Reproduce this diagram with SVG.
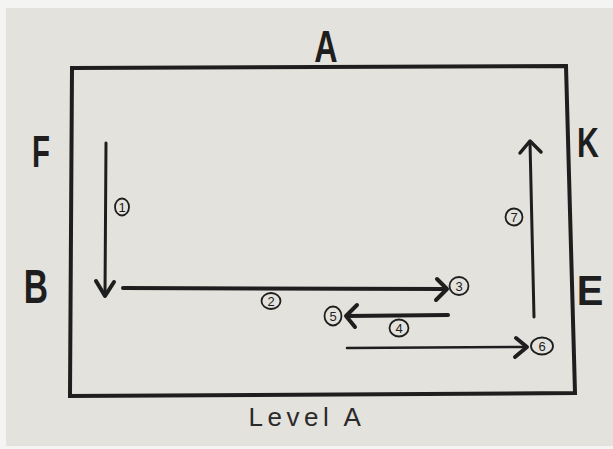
<svg xmlns="http://www.w3.org/2000/svg" width="613" height="449" viewBox="0 0 613 449">
<defs>
<style>
.bg{fill:#e3e2dd}
.frame{fill:none;stroke:#1e1e1e;stroke-width:4;stroke-linejoin:miter}
.big{font-family:"Liberation Sans",Arial,sans-serif;font-weight:bold;font-size:42px;fill:#1e1e1e;text-anchor:middle}
.cap{font-family:"Liberation Sans",Arial,sans-serif;font-size:26px;letter-spacing:4.5px;fill:#2a2a2a;text-anchor:middle}
.ln{fill:none;stroke:#1e1e1e;stroke-linecap:round;stroke-linejoin:round}
.ring{fill:none;stroke:#1e1e1e;stroke-width:1.8}
.num{font-family:"Liberation Sans",Arial,sans-serif;font-size:13px;fill:#1e1e1e;text-anchor:middle}
</style>
</defs>
<rect width="613" height="449" fill="#f4f4f2"/>
<rect class="bg" x="6" y="8" width="607" height="438"/>
<g id="room">
<path class="frame" d="M72,68 L566,66 L575,393 L70,396 Z"/>
</g>
<g id="label-A"><text class="big" transform="translate(326,62) scale(0.77,1.05)">A</text></g>
<g id="label-F"><text class="big" transform="translate(41,167) scale(0.7,1.05)">F</text></g>
<g id="label-B"><text class="big" transform="translate(36,303) scale(0.8,1.15)">B</text></g>
<g id="label-K"><text class="big" transform="translate(588,157) scale(0.72,1.0)">K</text></g>
<g id="label-E"><text class="big" transform="translate(590,305) scale(0.95,1.0)">E</text></g>
<g id="caption"><text class="cap" x="307" y="426">Level A</text></g>
<g id="connectors">
<path class="ln" stroke-width="3" d="M106,143 L105,295"/>
<path class="ln" stroke-width="4" d="M96,281 L105,296 L114,282"/>
<path class="ln" stroke-width="4" d="M123,288 L446,289"/>
<path class="ln" stroke-width="4" d="M437,279 L447,289 L436,300"/>
<path class="ln" stroke-width="4" d="M448,315 L347,316"/>
<path class="ln" stroke-width="4" d="M357,305 L346,316 L355,327"/>
<path class="ln" stroke-width="2.5" d="M347,348 L526,347"/>
<path class="ln" stroke-width="4" d="M516,338 L527,347 L515,357"/>
<path class="ln" stroke-width="3" d="M534,317 L530,142"/>
<path class="ln" stroke-width="3.5" d="M520,153 L530,141 L541,152"/>
</g>
<g id="n1"><ellipse class="ring" cx="122" cy="207" rx="7" ry="8.5"/><text class="num" x="122" y="211.5">1</text></g>
<g id="n2"><ellipse class="ring" cx="271" cy="301" rx="9.5" ry="8"/><text class="num" x="271" y="305.5">2</text></g>
<g id="n3"><ellipse class="ring" cx="459" cy="286" rx="9.5" ry="9"/><text class="num" x="459" y="290.5">3</text></g>
<g id="n4"><ellipse class="ring" cx="399" cy="328" rx="9.5" ry="8.5"/><text class="num" x="399" y="332.5">4</text></g>
<g id="n5"><ellipse class="ring" cx="333" cy="316" rx="8.5" ry="9.5"/><text class="num" x="333" y="320.5">5</text></g>
<g id="n6"><ellipse class="ring" cx="542" cy="346" rx="11" ry="8.5"/><text class="num" x="542" y="350.5">6</text></g>
<g id="n7"><ellipse class="ring" cx="514" cy="217" rx="8.5" ry="8.5"/><text class="num" x="514" y="221.5">7</text></g>
</svg>
